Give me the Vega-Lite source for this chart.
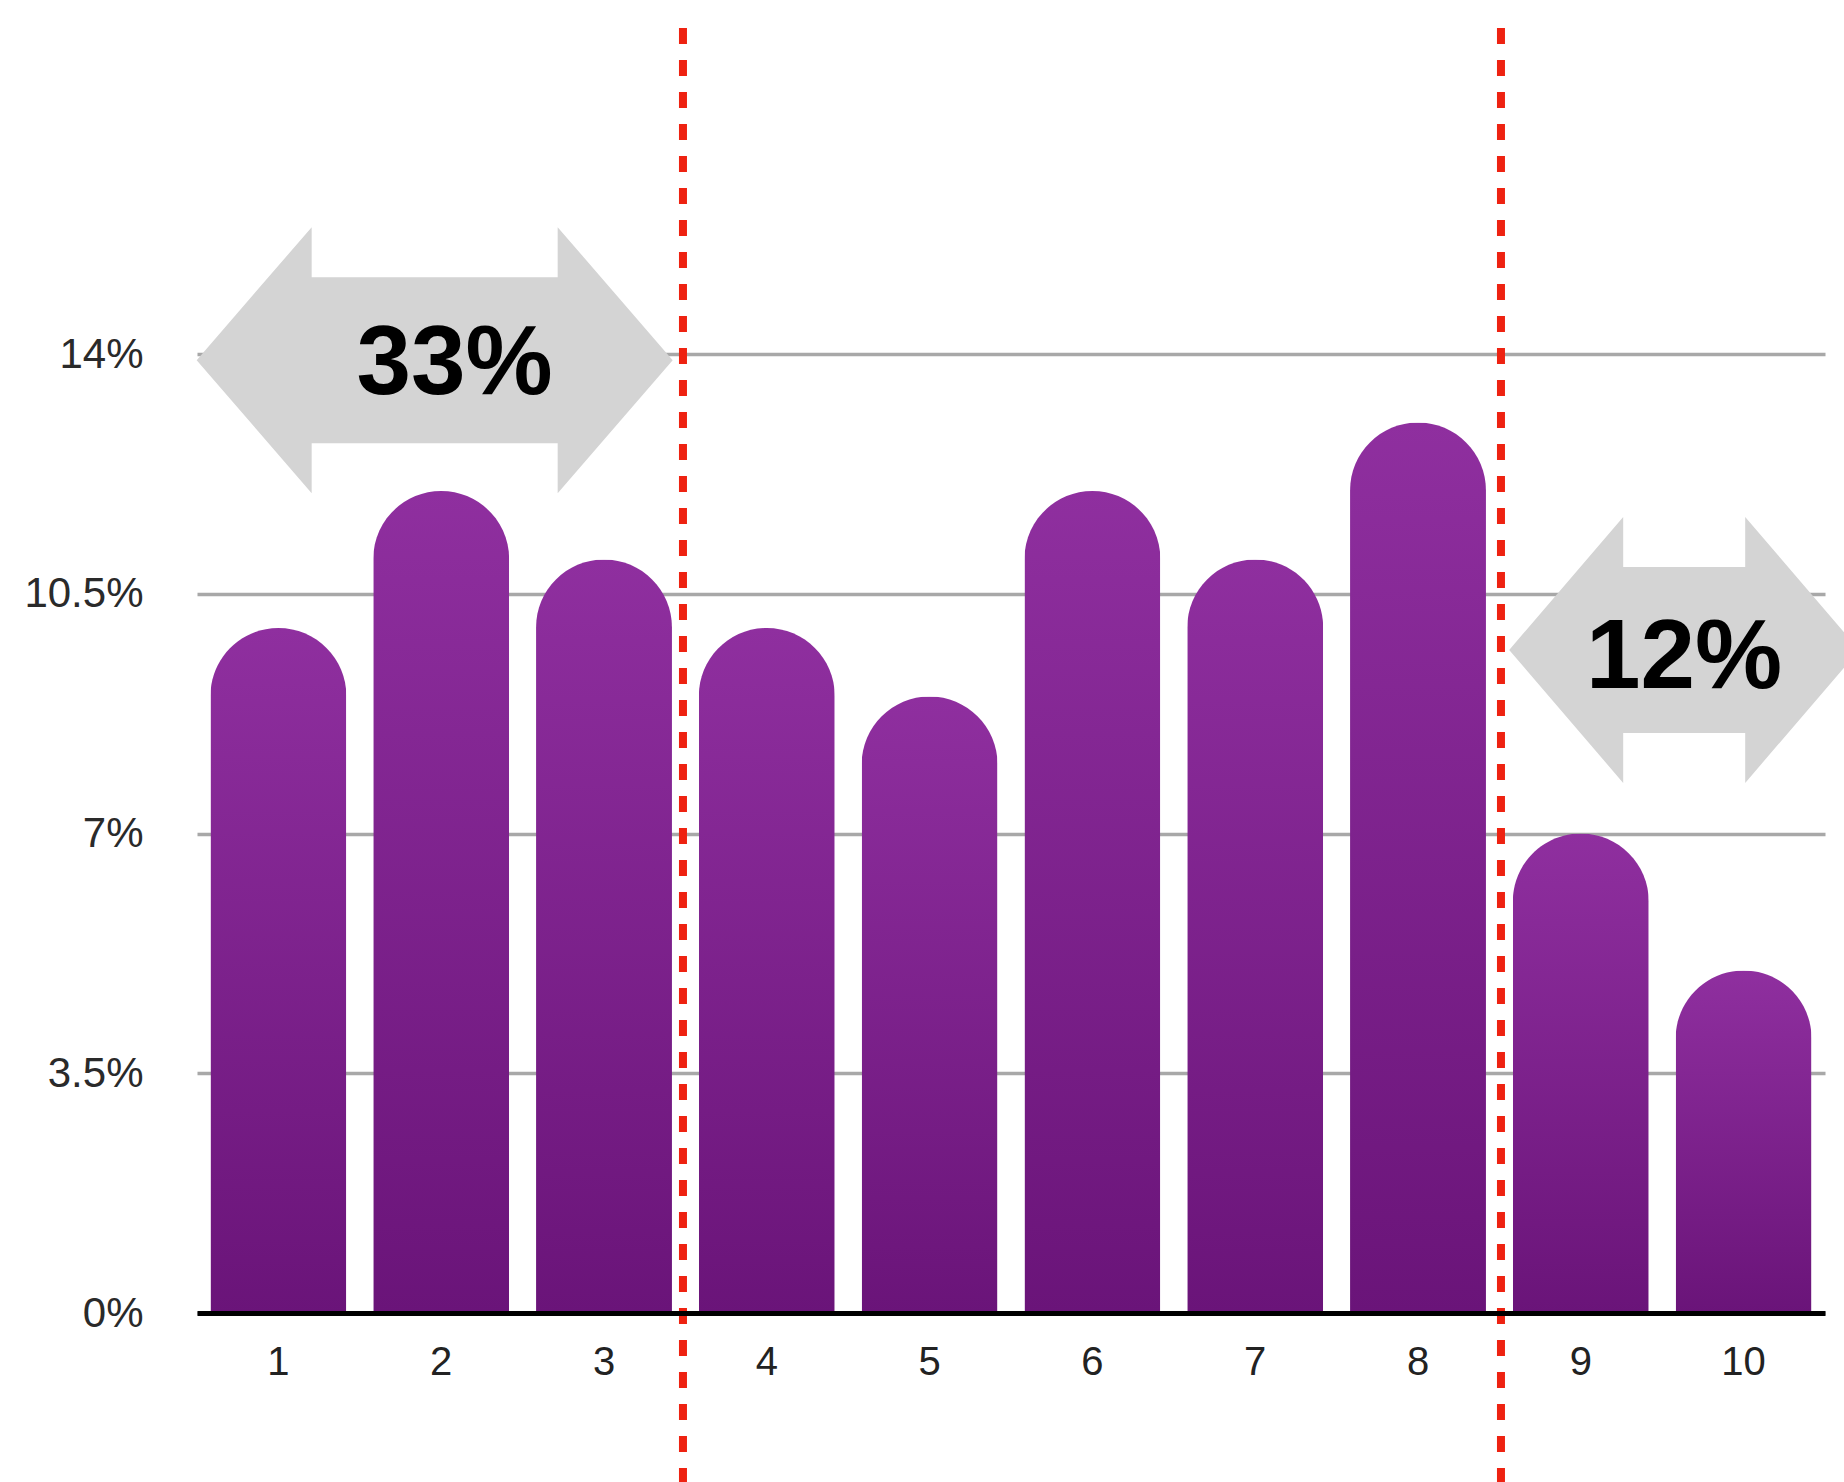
{
  "$schema": "https://vega.github.io/schema/vega-lite/v6.json",
  "width": 1628,
  "height": 959,
  "autosize": {"type": "none"},
  "padding": {"left": 197, "top": 354, "right": 19, "bottom": 169},
  "background": "white",
  "config": {"view": {"stroke": null}},
  "datasets": {
    "bars": [
      {"decile": 1, "share": 10},
      {"decile": 2, "share": 12},
      {"decile": 3, "share": 11},
      {"decile": 4, "share": 10},
      {"decile": 5, "share": 9},
      {"decile": 6, "share": 12},
      {"decile": 7, "share": 11},
      {"decile": 8, "share": 13},
      {"decile": 9, "share": 7},
      {"decile": 10, "share": 5}
    ],
    "splitA": [{"after": 3}],
    "splitB": [{"after": 8}],
    "spanA": [{"anchor": 2, "level": 13.91, "label": "33%"}],
    "spanB": [{"anchor": 10, "level": 9.68, "label": "12%"}]
  },
  "layer": [
    {
      "data": {"name": "bars"},
      "mark": {
        "type": "bar",
        "cornerRadiusTopLeft": 68,
        "cornerRadiusTopRight": 68,
        "color": {
          "gradient": "linear",
          "x1": 0, "y1": 0, "x2": 0, "y2": 1,
          "stops": [
            {"offset": 0, "color": "#8F2F9F"},
            {"offset": 1, "color": "#6A1479"}
          ]
        }
      },
      "encoding": {
        "x": {
          "field": "decile",
          "type": "ordinal",
          "scale": {"domain": [1, 2, 3, 4, 5, 6, 7, 8, 9, 10], "paddingInner": 0.165, "paddingOuter": 0.0825},
          "axis": {
            "title": null,
            "labelAngle": 0,
            "labelFont": "Liberation Sans",
            "labelFontSize": 40,
            "labelColor": "#222222",
            "labelPadding": 29,
            "ticks": false,
            "domainColor": "#000000",
            "domainWidth": 5,
            "zindex": 1
          }
        },
        "y": {
          "field": "share",
          "type": "quantitative",
          "scale": {"domain": [0, 14], "nice": false},
          "axis": {
            "title": null,
            "values": [0, 3.5, 7, 10.5, 14],
            "labelExpr": "datum.value + '%'",
            "labelFont": "Liberation Sans",
            "labelFontSize": 42,
            "labelColor": "#2A2A2A",
            "labelPadding": 54,
            "ticks": false,
            "domain": false,
            "grid": true,
            "gridColor": "#A8A8A8",
            "gridWidth": 3.5
          }
        }
      }
    },
    {
      "data": {"name": "spanA"},
      "mark": {
        "type": "point",
        "shape": "M-238,0L-123,-133L-123,-83L123,-83L123,-133L238,0L123,133L123,83L-123,83L-123,133Z",
        "size": 4,
        "filled": true,
        "color": "#D4D4D4",
        "opacity": 1,
        "strokeWidth": 0
      },
      "encoding": {
        "x": {"field": "anchor", "type": "ordinal", "bandPosition": 0.452},
        "y": {"field": "level", "type": "quantitative"}
      }
    },
    {
      "data": {"name": "spanA"},
      "mark": {
        "type": "text",
        "font": "Liberation Sans",
        "fontWeight": "bold",
        "fontSize": 98,
        "color": "#000000",
        "baseline": "middle",
        "align": "center",
        "dx": 20,
        "dy": 5
      },
      "encoding": {
        "x": {"field": "anchor", "type": "ordinal", "bandPosition": 0.452},
        "y": {"field": "level", "type": "quantitative"},
        "text": {"field": "label"}
      }
    },
    {
      "data": {"name": "spanB"},
      "mark": {
        "type": "point",
        "shape": "M-175,0L-61,-133L-61,-83L61,-83L61,-133L175,0L61,133L61,83L-61,83L-61,133Z",
        "size": 4,
        "filled": true,
        "color": "#D4D4D4",
        "opacity": 1,
        "strokeWidth": 0
      },
      "encoding": {
        "x": {"field": "anchor", "type": "ordinal", "bandPosition": 0.063},
        "y": {"field": "level", "type": "quantitative"}
      }
    },
    {
      "data": {"name": "spanB"},
      "mark": {
        "type": "text",
        "font": "Liberation Sans",
        "fontWeight": "bold",
        "fontSize": 98,
        "color": "#000000",
        "baseline": "middle",
        "align": "center",
        "dx": 0,
        "dy": 9
      },
      "encoding": {
        "x": {"field": "anchor", "type": "ordinal", "bandPosition": 0.063},
        "y": {"field": "level", "type": "quantitative"},
        "text": {"field": "label"}
      }
    },
    {
      "data": {"name": "splitA"},
      "mark": {
        "type": "rule",
        "color": "#EE2211",
        "strokeWidth": 8,
        "strokeDash": [16, 16],
        "strokeCap": "butt",
        "xOffset": 11
      },
      "encoding": {
        "x": {"field": "after", "type": "ordinal", "bandPosition": 1},
        "y": {"datum": 18.76},
        "y2": {"datum": -2.6}
      }
    },
    {
      "data": {"name": "splitB"},
      "mark": {
        "type": "rule",
        "color": "#EE2211",
        "strokeWidth": 8,
        "strokeDash": [16, 16],
        "strokeCap": "butt",
        "xOffset": 15
      },
      "encoding": {
        "x": {"field": "after", "type": "ordinal", "bandPosition": 1},
        "y": {"datum": 18.76},
        "y2": {"datum": -2.6}
      }
    }
  ]
}
